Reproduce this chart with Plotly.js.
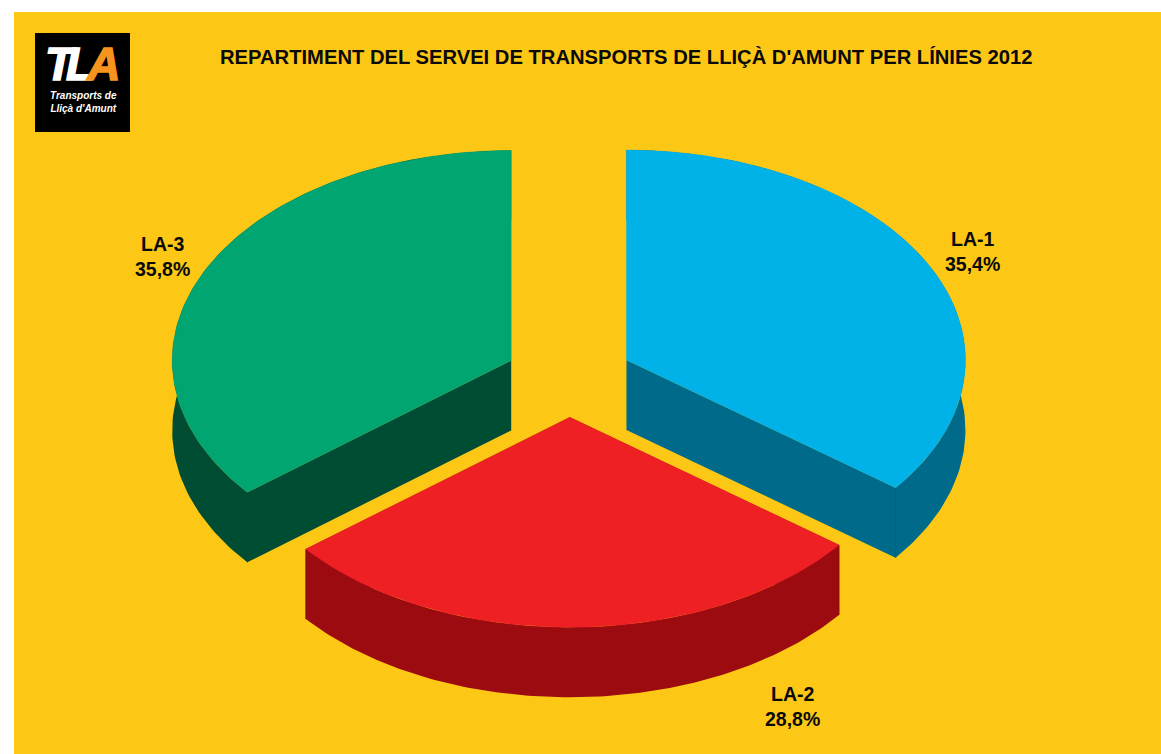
<!DOCTYPE html>
<html>
<head>
<meta charset="utf-8">
<script src="https://cdn.plot.ly/plotly-3.0.1.min.js"></script>
<style>html,body{margin:0;padding:0;background:#fff}#chart{width:1161px;height:754px}</style>
</head>
<body>
<div id="chart"></div>
<script>
const categories = ['LA-1', 'LA-2', 'LA-3'];
const shares = [35.4, 28.8, 35.8];
const topColors = ['#00b2e8', '#ee2024', '#00a571'];
const wallColors = ['#006a8b', '#9c0b0f', '#004d33'];
const seamColors = ['#005f7e', '#8f0a0d', '#00442d'];
const labelX = [972, 792.5, 162];
const labelY = [251, 706, 256];

const titleText = "REPARTIMENT DEL SERVEI DE TRANSPORTS DE LLIÇÀ D'AMUNT PER LÍNIES 2012";

// Pie projection: ellipse on a pixel-scaled cartesian axis pair
const cx = 569, cy = 377.6, a = 339, b = 210, depth = 70, explode = 0.189;
const total = shares.reduce((s, v) => s + v, 0);

function pt(c, deg, r = 1, dy = 0) {
  const t = deg * Math.PI / 180;
  return [c[0] + a * r * Math.sin(t), c[1] - b * r * Math.cos(t) + dy];
}
function poly(points, color, width) {
  return {
    type: 'scatter', mode: 'lines', hoverinfo: 'skip', showlegend: false,
    x: points.map(p => p[0]), y: points.map(p => p[1]),
    fill: 'toself', fillcolor: color,
    line: {color: color, width: width}
  };
}
function seam(p, color) {
  return {
    type: 'scatter', mode: 'lines', hoverinfo: 'skip', showlegend: false,
    x: [p[0], p[0]], y: [p[1], p[1] + depth],
    line: {color: color, width: 1}
  };
}

const traces = [];
const tops = [];
let acc = 0;
shares.forEach((v, i) => {
  const start = acc / total * 360;
  const end = (acc + v) / total * 360;
  acc += v;
  const c = pt([cx, cy], (start + end) / 2, explode);
  const arc = [], under = [];
  for (let d = 0; d <= 120; d++) {
    const th = start + (end - start) * d / 120;
    arc.push(pt(c, th));
    under.push(pt(c, th, 1, depth));
  }
  const first = arc[0], last = arc[arc.length - 1];
  // radial walls, then outer wall, then seams; the top face hides the back parts
  traces.push(poly([c, first, [first[0], first[1] + depth], [c[0], c[1] + depth], c], wallColors[i], 0));
  traces.push(poly([c, last, [last[0], last[1] + depth], [c[0], c[1] + depth], c], wallColors[i], 0));
  traces.push(poly(arc.concat(under.slice().reverse()).concat([arc[0]]), wallColors[i], 0));
  // only corners on the near half of the pie show a seam
  if (Math.cos(start * Math.PI / 180) < 0) traces.push(seam(first, seamColors[i]));
  if (Math.cos(end * Math.PI / 180) < 0) traces.push(seam(last, seamColors[i]));
  tops.push(poly([c].concat(arc).concat([c]), topColors[i], 0.4));
});

const labelAnnotations = categories.map((name, i) => ({
  x: labelX[i], y: labelY[i], xref: 'x', yref: 'y', showarrow: false,
  text: name + '<br>' + shares[i].toFixed(1).replace('.', ',') + '%',
  align: 'center',
  font: {family: 'Liberation Sans, Arial, sans-serif', size: 19.5, color: '#0a0a0a', weight: 700}
}));

const layout = {
  width: 1161, height: 754,
  margin: {l: 0, r: 0, t: 0, b: 0},
  paper_bgcolor: '#ffffff', plot_bgcolor: 'rgba(0,0,0,0)',
  showlegend: false,
  xaxis: {range: [0, 1161], visible: false, fixedrange: true},
  yaxis: {range: [754, 0], visible: false, fixedrange: true},
  shapes: [
    {type: 'rect', layer: 'below', xref: 'x', yref: 'y', x0: 14, x1: 1161, y0: 12, y1: 754,
     fillcolor: '#fdc815', line: {width: 0}},
    {type: 'rect', layer: 'below', xref: 'x', yref: 'y', x0: 35, x1: 130, y0: 33, y1: 132,
     fillcolor: '#000000', line: {width: 0}}
  ],
  annotations: labelAnnotations.concat([
    {x: 626, y: 57, xref: 'x', yref: 'y', showarrow: false, text: titleText,
     font: {family: 'Liberation Sans, Arial, sans-serif', size: 20.2, color: '#0a0a0a', weight: 700}},
    {x: 82, y: 64, xref: 'x', yref: 'y', showarrow: false,
     text: '<span style="letter-spacing:-7px;stroke:#ffffff;stroke-width:1.5px">TL</span><span style="fill:#f7941d;stroke:#f7941d;stroke-width:1.5px">A</span>',
     font: {family: 'Liberation Sans, Arial, sans-serif', size: 46, color: '#ffffff', weight: 700, style: 'italic'}},
    {x: 83, y: 102, xref: 'x', yref: 'y', showarrow: false, align: 'center',
     text: 'Transports de<br>Lliçà d\'Amunt',
     font: {family: 'Liberation Sans, Arial, sans-serif', size: 10, color: '#ffffff', weight: 700, style: 'italic'}}
  ])
};

Plotly.newPlot('chart', traces.concat(tops), layout, {displayModeBar: false, staticPlot: true});
</script>
</body>
</html>
